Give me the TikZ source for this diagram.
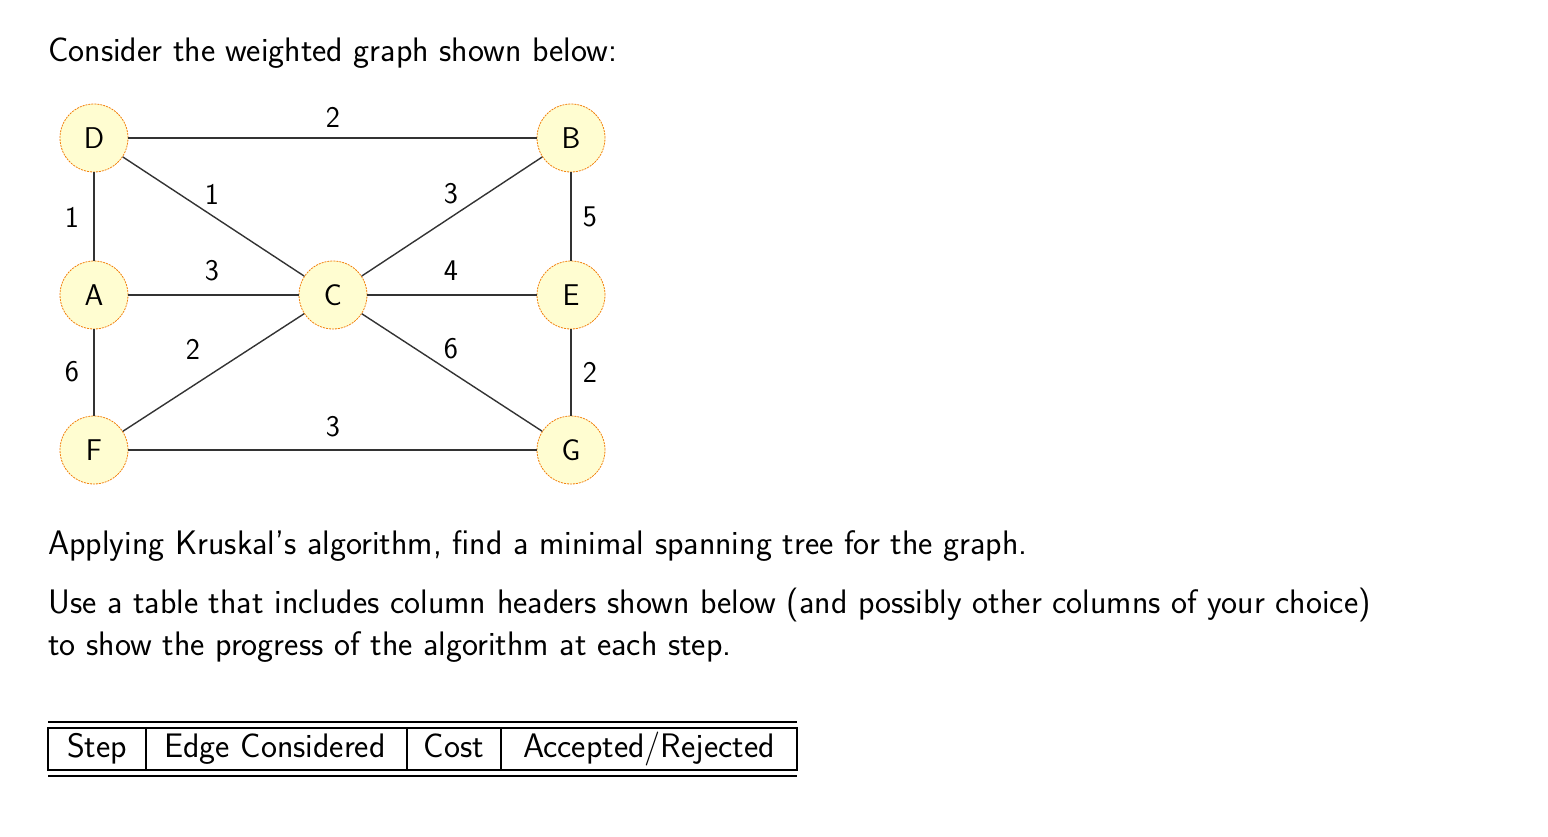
\documentclass[tikz,border=0pt]{standalone}
\usepackage{fontspec}
\begin{document}
\begin{tikzpicture}[x=1pt,y=-1pt,font=\sffamily\fontsize{34}{40}\selectfont,
  v/.style={circle,draw=orange!80!brown,dashed,dash pattern=on 2pt off 1pt,line width=0.8pt,fill=yellow!18,minimum size=68pt,inner sep=0pt,font=\sffamily\fontsize{30}{34}\selectfont},
  e/.style={line width=1.4pt,draw=black!80},
  w/.style={font=\sffamily\fontsize{30}{34}\selectfont,inner sep=0pt},
  t/.style={anchor=west,inner sep=0pt},
  h/.style={anchor=base,inner sep=0pt},
  tl/.style={line width=1.4pt}]
\useasboundingbox (0,0) rectangle (1548,836);
\node[t] (t1) at (48,53) {Consider the weighted graph shown below:};
\node[v] (D) at (94,138) {D};
\node[v] (B) at (571,138) {B};
\node[v] (A) at (94,295) {A};
\node[v] (C) at (333,295) {C};
\node[v] (E) at (571,295) {E};
\node[v] (F) at (94,450) {F};
\node[v] (G) at (571,450) {G};
\draw[e] (D)--(B); \draw[e] (D)--(A); \draw[e] (D)--(C);
\draw[e] (A)--(C); \draw[e] (C)--(B); \draw[e] (C)--(E);
\draw[e] (B)--(E); \draw[e] (A)--(F); \draw[e] (F)--(C);
\draw[e] (C)--(G); \draw[e] (E)--(G); \draw[e] (F)--(G);
\node[w] (l1) at (333,117) {2};
\node[w] (l2) at (72,217) {1};
\node[w] (l3) at (212,194) {1};
\node[w] (l4) at (451,194) {3};
\node[w] (l5) at (590,217) {5};
\node[w] (l6) at (212,271) {3};
\node[w] (l7) at (451,271) {4};
\node[w] (l8) at (72,372) {6};
\node[w] (l9) at (193,349) {2};
\node[w] (l10) at (451,349) {6};
\node[w] (l11) at (590,372) {2};
\node[w] (l12) at (333,427) {3};
\node[t] (t2) at (48,546) {Applying Kruskal's algorithm, find a minimal spanning tree for the graph.};
\node[t] (t3) at (48,605) {Use a table that includes column headers shown below (and possibly other columns of your choice)};
\node[t] (t4) at (48,647) {to show the progress of the algorithm at each step.};
\draw[tl] (48,722)--(797,722);
\draw[tl] (48,776)--(797,776);
\draw[tl] (48,728) rectangle (797,770);
\draw[tl] (146,728)--(146,770);
\draw[tl] (407,728)--(407,770);
\draw[tl] (501,728)--(501,770);
\node[h] (h1) at (97,757) {Step};
\node[h] (h2) at (275,757) {Edge Considered};
\node[h] (h3) at (454,757) {Cost};
\node[h] (h4) at (649,757) {Accepted/Rejected};
\end{tikzpicture}
\end{document}
